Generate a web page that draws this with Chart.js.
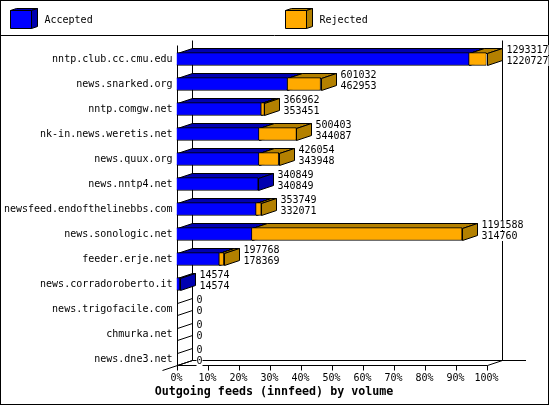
<!DOCTYPE html>
<html>
<head>
<meta charset="utf-8">
<title>Outgoing feeds</title>
<script src="https://cdn.jsdelivr.net/npm/chart.js@4"></script>
<style>
  body { margin: 0; background: #fff; }
  canvas { display: block; }
</style>
</head>
<body>
<canvas id="feeds" width="550" height="405"></canvas>
<script>
const categories = ["nntp.club.cc.cmu.edu", "news.snarked.org", "nntp.comgw.net", "nk-in.news.weretis.net",
    "news.quux.org", "news.nntp4.net", "newsfeed.endofthelinebbs.com", "news.sonologic.net", "feeder.erje.net",
    "news.corradoroberto.it", "news.trigofacile.com", "chmurka.net", "news.dne3.net"];
const accepted = [1220727, 462953, 353451, 344087, 343948, 340849, 332071, 314760, 178369, 14574, 0, 0, 0];
const rejected = [72590, 138079, 13511, 156316, 82106, 0, 21678, 876828, 19399, 0, 0, 0, 0];
const totals = [1293317, 601032, 366962, 500403, 426054, 340849, 353749, 1191588, 197768, 14574, 0, 0, 0];
const percentTicks = ["0%", "10%", "20%", "30%", "40%", "50%", "60%", "70%", "80%", "90%", "100%"];

const scaleMax = 1293317;
const monoFont = "'DejaVu Sans Mono', monospace";
const depthX = 15, depthY = 5;
const colors = {
    Accepted: { front: "#0000ff", dark: "#0000b0" },
    Rejected: { front: "#ffaa00", dark: "#b38000" }
};

function line(ctx, x1, y1, x2, y2) {
    ctx.beginPath();
    ctx.moveTo(x1, y1);
    ctx.lineTo(x2, y2);
    ctx.stroke();
}

function poly(ctx, pts, fill) {
    ctx.beginPath();
    pts.forEach((p, i) => i ? ctx.lineTo(p[0], p[1]) : ctx.moveTo(p[0], p[1]));
    ctx.closePath();
    if (fill) {
        ctx.fillStyle = fill;
        ctx.fill();
    }
    ctx.stroke();
}

// Frame, legend and the walls of the 3d box
const boxPlugin = {
    id: "box",
    // layout padding pushes the title left, centre it on the whole frame again
    beforeDraw(chart) {
        chart.titleBlock.left = 0;
        chart.titleBlock.right = 548;
    },
    beforeDatasetsDraw(chart) {
        const ctx = chart.ctx;
        const xs = chart.scales.x;
        const left = Math.round(xs.getPixelForValue(0)) + 0.5;
        const right = Math.round(xs.getPixelForValue(scaleMax)) + 0.5;
        const floor = 365.5, top = 45.5;
        ctx.save();
        ctx.strokeStyle = "#000";
        ctx.lineWidth = 1;
        ctx.strokeRect(0.5, 0.5, 548, 404);
        line(ctx, 0, 35.5, 549, 35.5);

        chart.data.datasets.forEach((ds, i) => {
            const x = i === 0 ? 10.5 : 285.5;
            const c = colors[ds.label];
            poly(ctx, [[x, 28.5], [x, 10.5], [x + 21, 10.5], [x + 21, 28.5]], c.front);
            poly(ctx, [[x, 10.5], [x + 6, 8.5], [x + 27, 8.5], [x + 21, 10.5]], c.dark);
            poly(ctx, [[x + 21, 10.5], [x + 27, 8.5], [x + 27, 26.5], [x + 21, 28.5]], c.dark);
            ctx.fillStyle = "#000";
            ctx.font = "10px " + monoFont;
            ctx.textAlign = "left";
            ctx.textBaseline = "middle";
            ctx.fillText(ds.label, x + 34, 20);
        });

        line(ctx, left, top, left, floor);
        line(ctx, left + depthX, top - depthY, left + depthX, floor - depthY);
        line(ctx, right + depthX, top - depthY, right + depthX, floor - depthY);
        line(ctx, left, floor, right, floor);
        line(ctx, left + depthX, floor - depthY, 526, floor - depthY);
        line(ctx, left - depthX, floor + depthY, left + depthX, floor - depthY);
        line(ctx, right, floor, right + depthX, floor - depthY);
        percentTicks.forEach((t, i) => {
            const x = Math.round(xs.getPixelForValue(scaleMax * i / 10)) + 0.5;
            line(ctx, x, floor, x, floor + 5);
        });

        // depth faces of the bars, accepted first so rejected sits over it
        const barsA = chart.getDatasetMeta(0).data;
        const barsR = chart.getDatasetMeta(1).data;
        barsA.forEach((bar, i) => {
            const y1 = bar.y - 6, y2 = bar.y + 6;
            const yT = Math.round(y1) + 0.5, yB = Math.round(y2) + 0.5;
            const x0 = Math.round(bar.base) + 0.5;
            const xa = Math.round(bar.x) + 0.5;
            const xr = Math.round(barsR[i].x) + 0.5;
            const side = x => [[x, yT], [x + depthX, yT - depthY], [x + depthX, yB - depthY], [x, yB]];
            const topFace = (a, b) => [[a, yT], [a + depthX, yT - depthY], [b + depthX, yT - depthY], [b, yT]];
            if (totals[i] === 0) {
                poly(ctx, side(x0), null);
                return;
            }
            poly(ctx, topFace(x0, xa), colors.Accepted.dark);
            poly(ctx, side(xa), colors.Accepted.dark);
            if (rejected[i] > 0) {
                poly(ctx, topFace(xa, xr), colors.Rejected.dark);
                poly(ctx, side(xr), colors.Rejected.dark);
            }
        });
        ctx.restore();
    },
    afterDatasetsDraw(chart) {
        const ctx = chart.ctx;
        const barsR = chart.getDatasetMeta(1).data;
        ctx.save();
        ctx.font = "10px " + monoFont;
        ctx.textAlign = "left";
        ctx.textBaseline = "middle";
        barsR.forEach((bar, i) => {
            const x = Math.round(bar.x) + 0.5 + depthX + 4;
            [[totals[i], -9], [accepted[i], 2]].forEach(([v, dy]) => {
                const txt = String(v);
                ctx.fillStyle = "#fff";
                ctx.fillRect(x, bar.y + dy - 5, ctx.measureText(txt).width, 10);
                ctx.fillStyle = "#000";
                ctx.fillText(txt, x, bar.y + dy);
            });
        });
        ctx.restore();
    }
};

new Chart(document.getElementById("feeds"), {
    type: "bar",
    data: {
        labels: categories,
        datasets: [
            { label: "Accepted", data: accepted, borderColor: "#000", barThickness: 13,
              backgroundColor: c => accepted[c.dataIndex] > 0 ? colors.Accepted.front : "transparent",
              borderWidth: c => accepted[c.dataIndex] > 0 ? 1 : 0 },
            { label: "Rejected", data: rejected, borderColor: "#000", barThickness: 13,
              backgroundColor: c => rejected[c.dataIndex] > 0 ? colors.Rejected.front : "transparent",
              borderWidth: c => rejected[c.dataIndex] > 0 ? 1 : 0 }
        ]
    },
    options: {
        indexAxis: "y",
        responsive: false,
        animation: false,
        devicePixelRatio: 1,
        layout: { padding: { top: 46.5, right: 63.5, left: 0, bottom: 0 } },
        plugins: {
            legend: { display: false },
            tooltip: { enabled: false },
            title: {
                display: true,
                position: "bottom",
                text: "Outgoing feeds (innfeed) by volume",
                color: "#000",
                font: { family: monoFont, size: 11.67, weight: "bold" },
                padding: { top: 0, bottom: 6.3 }
            }
        },
        scales: {
            x: {
                stacked: true,
                min: 0,
                max: scaleMax,
                afterFit: s => { s.height = 13.2; },
                grid: { display: false, drawTicks: false, tickLength: 0 },
                border: { display: false },
                ticks: {
                    stepSize: scaleMax / 10,
                    autoSkip: false,
                    maxRotation: 0,
                    padding: 1,
                    color: "#000",
                    font: { family: monoFont, size: 10 },
                    callback: (v, i) => percentTicks[i]
                }
            },
            y: {
                stacked: true,
                afterFit: s => { s.width = 176.5; },
                grid: { display: false, drawTicks: false, tickLength: 0 },
                border: { display: false },
                ticks: {
                    autoSkip: false,
                    padding: 4,
                    color: "#000",
                    font: { family: monoFont, size: 10 }
                }
            }
        }
    },
    plugins: [boxPlugin]
});
</script>
</body>
</html>
